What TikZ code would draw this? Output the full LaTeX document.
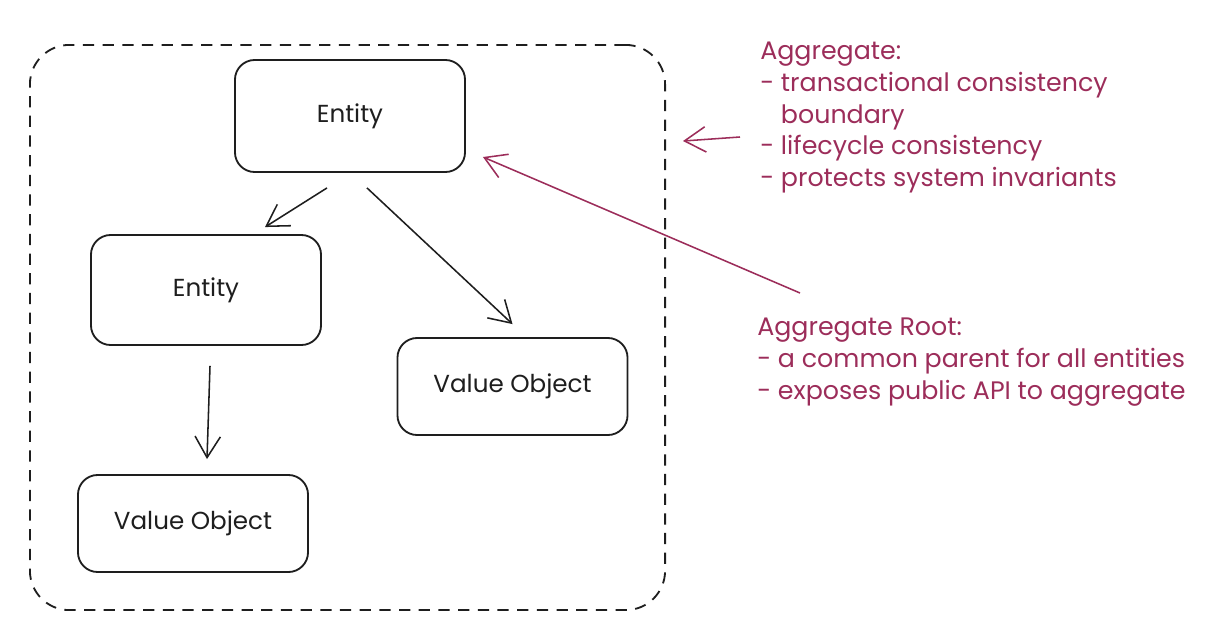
\documentclass[tikz,border=0pt]{standalone}
\usepackage{fontspec}
\setmainfont{Poppins}
\usetikzlibrary{arrows.meta}
\definecolor{notepink}{RGB}{156,45,90}
\definecolor{inkblack}{RGB}{30,30,30}

\begin{document}
\begin{tikzpicture}[x=0.025cm,y=-0.025cm,
  box/.style={draw=inkblack,line width=1.3pt,rounded corners=14pt,minimum width=5.75cm,text=inkblack,font=\fontsize{17.5}{21}\selectfont},
  note/.style={anchor=north west,inner sep=0pt,align=left,text=notepink,font=\fontsize{18}{22.5}\selectfont},
  arr/.style={draw=inkblack,line width=1.1pt,-{Straight Barb[length=15pt,width=18pt,line width=1.1pt]}},
  pinkarr/.style={draw=notepink,line width=1.1pt,-{Straight Barb[length=15pt,width=18pt,line width=1.1pt]}}]
 \useasboundingbox (0,0) rectangle (1222,626);
 % aggregate boundary
 \node[draw=inkblack,line width=1.3pt,dash pattern=on 8pt off 6pt,rounded corners=28pt,
   minimum width=15.875cm,minimum height=14.125cm] (agg) at (347.5,327.5) {};
 % entities and value objects
 \node[box,minimum height=2.8cm] (root) at (350,116) {Entity};
 \node[box,minimum height=2.75cm] (ent) at (206,290) {Entity};
 \node[box,minimum height=2.425cm] (vo1) at (512.5,386.5) {Value Object};
 \node[box,minimum height=2.425cm] (vo2) at (193,523.5) {Value Object};
 \draw[arr] ([shift={(-23,15)}]root.south) -- ([shift={(59,-7)}]ent.north);
 \draw[arr] ([shift={(17,15)}]root.south) -- ([shift={(0,-13)}]vo1.north);
 \draw[arr] ([shift={(4,20)}]ent.south) -- ([shift={(14,-15)}]vo2.north);
 % notes
 \node[note] (aggnote) at (760,42) {Aggregate:\\- transactional consistency\\\phantom{- }boundary\\- lifecycle consistency\\- protects system invariants};
 \node[note] (rootnote) at (757,318) {Aggregate Root:\\- a common parent for all entities\\- exposes public API to aggregate};
 \draw[pinkarr] ([shift={(-20,95)}]aggnote.north west) -- ([shift={(17,97)}]agg.north east);
 \draw[pinkarr] ([shift={(43,-25)}]rootnote.north west) -- ([shift={(17,41)}]root.east);
\end{tikzpicture}
\end{document}
